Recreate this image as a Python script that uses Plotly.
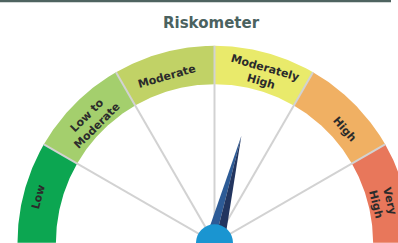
import numpy as np
import plotly.graph_objects as go

# ---- data ----
categories = ["Low", "Low to<br>Moderate", "Moderate", "Moderately<br>High", "High", "Very<br>High"]
level_edges = [0, 1, 2, 3, 4, 5, 6]          # risk scale boundaries
needle_value = 3.47                          # position of the needle on the 0-6 scale
chart_title = "Riskometer"

# ---- style ----
seg_colors = ["#0ca651", "#a4cf6d", "#c1d266", "#e9ea6b", "#f0b063", "#e8775b"]
label_nudge_deg = [0.5, 0, 1, -1, -4, -1.5]
label_radius = [0.925, 0.88, 0.88, 0.89, 0.875, 0.88]
R_OUT, R_IN = 1.0, 0.805
PX = 197.0                                   # pixels per unit radius
CX, CY = 214.5, 242.8                        # gauge centre in page pixels
W, H = 398, 243

def ang(v):
    # value on the 0-6 scale -> angle in radians (180 deg at 0, 0 deg at 6)
    return np.deg2rad(180.0 - 180.0 * (v - level_edges[0]) / (level_edges[-1] - level_edges[0]))

fig = go.Figure()

# coloured bands
for i, cat in enumerate(categories):
    t = np.linspace(ang(level_edges[i]), ang(level_edges[i + 1]), 60)
    xs = np.concatenate([R_OUT * np.cos(t), R_IN * np.cos(t[::-1])])
    ys = np.concatenate([R_OUT * np.sin(t), R_IN * np.sin(t[::-1])])
    fig.add_trace(go.Scatter(x=xs, y=ys, fill="toself", fillcolor=seg_colors[i],
                             mode="lines", line=dict(width=0), hoverinfo="skip",
                             showlegend=False))

# spokes at inner boundaries
for v in level_edges[1:-1]:
    a = ang(v)
    fig.add_trace(go.Scatter(x=[0, R_OUT * np.cos(a)], y=[0, R_OUT * np.sin(a)],
                             mode="lines", line=dict(color="#d2d2d2", width=2),
                             hoverinfo="skip", showlegend=False))

# needle (two-tone)
a = ang(needle_value)
tip_r, half_w = 0.56, 0.05
tip = (tip_r * np.cos(a), tip_r * np.sin(a))
left = (half_w * np.cos(a + np.pi / 2), half_w * np.sin(a + np.pi / 2))
right = (half_w * np.cos(a - np.pi / 2), half_w * np.sin(a - np.pi / 2))
fig.add_trace(go.Scatter(x=[0, left[0], tip[0], 0], y=[0, left[1], tip[1], 0],
                         fill="toself", fillcolor="#2d5b96", mode="lines",
                         line=dict(width=0), hoverinfo="skip", showlegend=False))
fig.add_trace(go.Scatter(x=[0, tip[0], right[0], 0], y=[0, tip[1], right[1], 0],
                         fill="toself", fillcolor="#22355f", mode="lines",
                         line=dict(width=0), hoverinfo="skip", showlegend=False))
# hub
fig.add_trace(go.Scatter(x=[0], y=[0], mode="markers", cliponaxis=False,
                         marker=dict(size=37, color="#1a95d1", line=dict(width=0)),
                         hoverinfo="skip", showlegend=False))

# labels
for i, cat in enumerate(categories):
    mid = 0.5 * (level_edges[i] + level_edges[i + 1])
    deg = np.rad2deg(ang(mid)) + label_nudge_deg[i]
    a = np.deg2rad(deg)
    r = label_radius[i]
    fig.add_annotation(x=r * np.cos(a), y=r * np.sin(a), text="<b>" + cat + "</b>",
                       showarrow=False, textangle=90 - deg,
                       font=dict(family="DejaVu Sans", size=11, color="#2b2b2b"))

# title
fig.add_annotation(x=(211 - CX) / PX, y=(CY - 23) / PX, text="<b>" + chart_title + "</b>",
                   showarrow=False, font=dict(family="DejaVu Sans", size=15, color="#4b625f"))

# top border
fig.add_shape(type="line", xref="paper", yref="paper", x0=0, x1=391 / W,
              y0=1 - 1 / H, y1=1 - 1 / H, line=dict(color="#4e6360", width=2.5))

fig.update_layout(
    width=W, height=H, margin=dict(l=0, r=0, t=0, b=0),
    paper_bgcolor="white", plot_bgcolor="white",
    xaxis=dict(range=[-CX / PX, (W - CX) / PX], visible=False, fixedrange=True),
    yaxis=dict(range=[(CY - H) / PX, CY / PX], visible=False, fixedrange=True),
)

fig.write_html("out.html", config={"displayModeBar": False},
               post_script="document.body.style.margin='0';document.body.style.overflow='hidden';")
